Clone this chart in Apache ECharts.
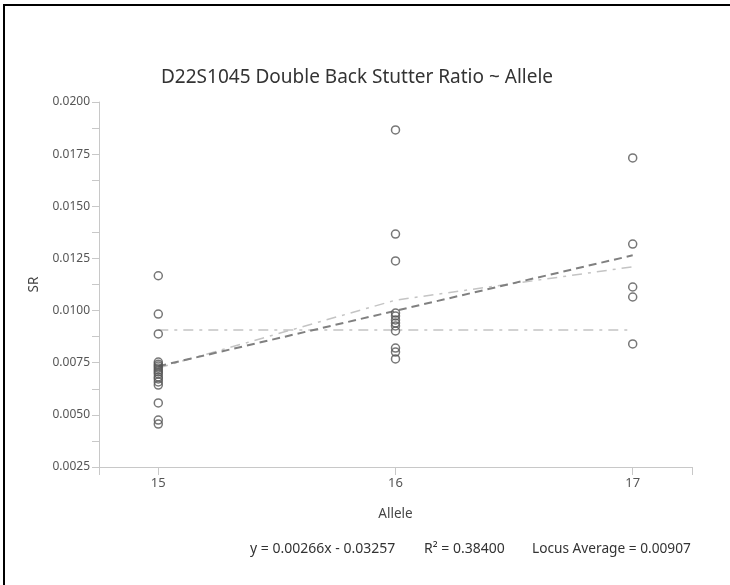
<!DOCTYPE html>
<html>
<head>
<meta charset="utf-8">
<script src="https://cdn.jsdelivr.net/npm/echarts@6/dist/echarts.min.js"></script>
<style>
html,body{margin:0;padding:0;background:#fff;}
#wrap{position:relative;width:730px;height:585px;overflow:hidden;}
#chart{position:absolute;left:0;top:0;width:730px;height:585px;}
#frame{position:absolute;left:3px;top:4px;width:740px;height:600px;border-left:2px solid #000;border-top:2px solid #000;pointer-events:none;}
</style>
</head>
<body>
<div id="wrap"><div id="chart"></div><div id="frame"></div></div>
<script>
// ---- data ----
const alleles = [15, 16, 17];
const allele15SR = [0.01167, 0.00983, 0.00888, 0.00753, 0.00743, 0.00734, 0.00725, 0.00715, 0.00706, 0.00696, 0.00682, 0.00672, 0.00658, 0.00643, 0.00557, 0.00475, 0.00456];
const allele16SR = [0.01866, 0.01367, 0.01238, 0.00988, 0.00974, 0.00955, 0.00940, 0.00926, 0.00902, 0.00820, 0.00801, 0.00768];
const allele17SR = [0.01732, 0.01319, 0.01113, 0.01065, 0.00840];
const trendAlleles = [15, 17];
const trendSR = [0.00733, 0.01265];
const groupMeanSR = [0.00725, 0.01050, 0.01210];
const locusAverage = 0.00907;
const yTickLabels = ['0.0025','0.0050','0.0075','0.0100','0.0125','0.0150','0.0175','0.0200'];
const titleText = 'D22S1045 Double Back Stutter Ratio ~ Allele';
const equationText = 'y = 0.00266x - 0.03257';
const r2Text = 'R² = 0.38400';
const avgText = 'Locus Average = 0.00907';

// ---- build ----
const pts = [];
[allele15SR, allele16SR, allele17SR].forEach((arr, i) => arr.forEach(v => pts.push([alleles[i], v])));
const font = '"Noto Sans", "Open Sans", sans-serif';
const axisCol = '#c8c8c8';
const chart = echarts.init(document.getElementById('chart'), null, {renderer: 'canvas'});
chart.setOption({
  animation: false,
  backgroundColor: '#fff',
  textStyle: {fontFamily: font},
  title: [{
    text: titleText, left: 352, top: 63, textAlign: 'center',
    textStyle: {fontFamily: font, fontSize: 19, fontWeight: 'normal', color: '#333'}
  }],
  grid: {left: 99, right: 38, top: 102, bottom: 118, containLabel: false},
  xAxis: {
    type: 'value', min: 14.75, max: 17.25, interval: 0.25,
    name: 'Allele', nameLocation: 'middle', nameGap: 40,
    nameTextStyle: {fontFamily: font, fontSize: 13.5, color: '#444'},
    axisLine: {show: true, lineStyle: {color: axisCol, width: 1}},
    axisTick: {show: true, length: 8, lineStyle: {color: axisCol}, customValues: [14.75, 15, 16, 17, 17.25]},
    axisLabel: {color: '#555', fontSize: 13, margin: 10, customValues: alleles, formatter: v => String(v)},
    splitLine: {show: false}
  },
  yAxis: {
    type: 'value', min: 0.0025, max: 0.02, interval: 0.0025,
    name: 'SR', nameLocation: 'middle', nameGap: 58, nameRotate: 90,
    nameTextStyle: {fontFamily: font, fontSize: 13.5, color: '#444'},
    axisLine: {show: true, lineStyle: {color: axisCol, width: 1}},
    axisTick: {show: true, length: 7, lineStyle: {color: axisCol}},
    minorTick: {show: true, splitNumber: 2, length: 7, lineStyle: {color: axisCol}},
    axisLabel: {color: '#555', fontSize: 12, margin: 9, formatter: v => {
      const idx = Math.round((v - 0.0025) / 0.0025);
      return yTickLabels[idx] !== undefined ? yTickLabels[idx] : v.toFixed(4);
    }},
    splitLine: {show: false}
  },
  series: [
    {
      type: 'line', data: alleles.map(a => [a, locusAverage]), symbol: 'none', z: 1,
      lineStyle: {color: '#c4c4c4', width: 1.5, type: [10, 6, 3, 6]}
    },
    {
      type: 'line', data: alleles.map((a, i) => [a, groupMeanSR[i]]), symbol: 'none', z: 1,
      lineStyle: {color: '#c4c4c4', width: 1.5, type: [10, 6, 3, 6]}
    },
    {
      type: 'line', data: trendAlleles.map((a, i) => [a, trendSR[i]]), symbol: 'none', z: 2,
      lineStyle: {color: '#808080', width: 2, type: [8, 5]}
    },
    {
      type: 'scatter', data: pts, symbol: 'circle', symbolSize: 8, z: 3,
      itemStyle: {color: 'rgba(255,255,255,0)', borderColor: '#555', borderWidth: 1.5}
    }
  ],
  graphic: [
    {type: 'text', left: 250, top: 542, style: {text: equationText, font: '14px ' + font, fill: '#333'}},
    {type: 'text', left: 424, top: 542, style: {text: r2Text, font: '14px ' + font, fill: '#333'}},
    {type: 'text', left: 532, top: 542, style: {text: avgText, font: '13.7px ' + font, fill: '#333'}}
  ]
});
</script>
</body>
</html>
